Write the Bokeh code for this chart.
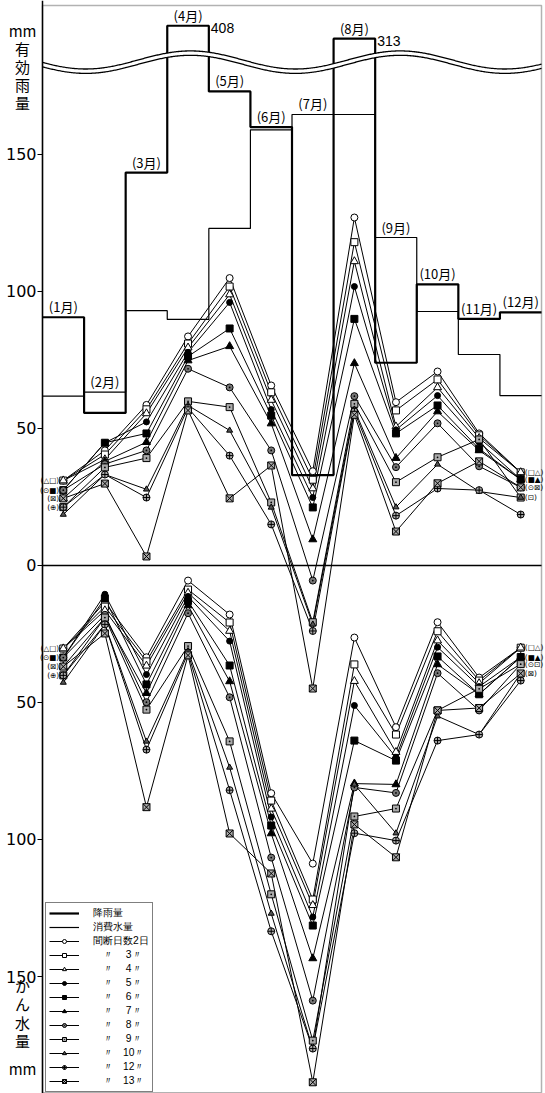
import numpy as np
from bokeh.plotting import figure
from bokeh.models import Range1d, FixedTicker, Legend, LegendItem, BoxAnnotation
from bokeh.core.properties import value
from bokeh.embed import file_html
from bokeh.resources import INLINE

# ---------------- data ----------------
months = [1, 2, 3, 4, 5, 6, 7, 8, 9, 10, 11, 12]
month_labels = ["(1月)", "(2月)", "(3月)", "(4月)", "(5月)", "(6月)",
                "(7月)", "(8月)", "(9月)", "(10月)", "(11月)", "(12月)"]

# 降雨量 (mm) and 消費水量 (mm)
rainfall = [90.6, 55.7, 143.4, 408, 173, 160, 33, 313, 74, 102.6, 90, 92.4]
consumption = [61.8, 63.3, 93, 89.8, 123, 159, 164.6, 164.6, 119.7, 92.7, 77, 62]

interval_days = [2, 3, 4, 5, 6, 7, 8, 9, 10, 12, 13]

# 有効雨量 (effective rainfall, mm) by irrigation interval
eff_2d = [31, 42, 58.6, 83.6, 104.9, 65.7, 34.4, 127, 59.6, 70.8, 48.2, 34]
eff_3d = [31, 40.5, 57, 81, 101.8, 63.2, 31.3, 118, 56.6, 67.9, 47.5, 34]
eff_4d = [31, 38.7, 55.5, 79.5, 98.9, 60.4, 28.1, 111, 50.7, 65, 46.5, 34]
eff_5d = [27.5, 44.8, 52.4, 77.8, 96, 56.9, 24.8, 101.8, 49.5, 62, 45, 31.4]
eff_6d = [27.5, 44.8, 48.2, 76.3, 86.5, 54.7, 21.2, 90, 48.2, 58.4, 42.6, 31.4]
eff_7d = [24.5, 38, 45, 74.8, 80, 51.8, 9.5, 73.8, 39.2, 56.2, 42, 31.4]
eff_8d = [27.5, 37, 42, 71.8, 65, 42, -5.5, 61.8, 35.9, 51.9, 36.2, 28.5]
eff_9d = [21.3, 35.8, 39.2, 59.9, 57.8, 23, -20.7, 59, 30.4, 39.5, 46, 24.8]
eff_10d = [18.6, 33.2, 27.8, 58.4, 49.3, 21.2, -21.5, 57, 21.3, 36.9, 27, 24.8]
eff_12d = [21.3, 33.2, 24.8, 57.5, 40.1, 15, -23.9, 56.2, 18.2, 28.1, 27.5, 18.6]
eff_13d = [24.5, 29.9, 3.3, 56.6, 24.5, 36.5, -44.9, 55, 12.4, 30, 38, 28.5]

# かん水量 (irrigation water, mm) by irrigation interval
irr_2d = [30.3, 13.4, 33.5, 5.5, 17.9, 83.1, 108.8, 26.3, 59, 20.7, 40.9, 30]
irr_3d = [30.3, 15, 35, 8.8, 20.8, 85.8, 121.9, 36.1, 61.7, 24, 42, 30]
irr_4d = [30.3, 16.4, 36.6, 10, 23.9, 88.8, 124, 42.2, 68.1, 27.4, 43, 30]
irr_5d = [33.6, 10.5, 39.8, 11.3, 27.6, 91.8, 128.3, 51.1, 70, 29.8, 44.2, 33.4]
irr_6d = [33.6, 12, 43.4, 13, 36.5, 94.9, 131.4, 63.9, 71.2, 33.2, 47, 33.4]
irr_7d = [36.9, 19, 46.6, 14.6, 42.3, 97.8, 143.4, 79.6, 79.9, 36.1, 47, 33.4]
irr_8d = [33.6, 18, 49.9, 17.4, 48.1, 106.6, 158.8, 81, 83, 39.3, 52.9, 36]
irr_9d = [40.1, 19, 52.6, 29.4, 64.2, 120, 173.4, 91.6, 88.7, 52.9, 45, 36]
irr_10d = [42.7, 21.5, 64.2, 31.2, 73.7, 127, 176.3, 79.9, 97.7, 55, 61.7, 39.4]
irr_12d = [40.1, 21.5, 67.2, 32, 82, 133.5, 176.3, 97.7, 100.4, 63.9, 61.7, 42]
irr_13d = [36.9, 24.8, 88.2, 32.8, 97.8, 112.4, 188.6, 94.5, 106.5, 52.9, 52, 39.4]

eff_series = [eff_2d, eff_3d, eff_4d, eff_5d, eff_6d, eff_7d, eff_8d, eff_9d, eff_10d, eff_12d, eff_13d]
irr_series = [irr_2d, irr_3d, irr_4d, irr_5d, irr_6d, irr_7d, irr_8d, irr_9d, irr_10d, irr_12d, irr_13d]

tick_values = [150, 100, 50, 0, -50, -100, -150]
tick_texts = ["150", "100", "50", "0", "50", "100", "150"]

# ---------------- styles ----------------
markers = ["circle", "square", "triangle", "circle", "square", "triangle",
           "circle_dot", "square_dot", "triangle", "circle_cross", "square_x"]
fills = ["white", "white", "white", "black", "black", "black",
         "#777777", "#aaaaaa", "#555555", "#aaaaaa", "#aaaaaa"]
sizes = [7, 7, 8, 6, 7, 8, 7, 7, 6, 7, 7]

FONT_JP = "Noto Sans CJK JP"
FONT_NUM = "Liberation Sans"
FONT_SYM = "DejaVu Sans"


def disp(v):
    """axis with a break above 180 mm"""
    return v if v <= 180 else 185.7 + (v - 180) * 0.0495


def step_xy(vals):
    xs, ys = [], []
    for m, v in zip(months, vals):
        xs += [m - 0.5, m + 0.5]
        ys += [disp(v), disp(v)]
    return xs, ys


X_LEFT, X_RIGHT = months[0] - 0.5, months[-1] + 0.5     # chart box edges
Y_TOP, Y_BOTTOM = 204.4, -192.4

p = figure(width=545, height=1093, output_backend="svg", toolbar_location=None,
           x_range=Range1d(-0.510, 12.596), y_range=Range1d(-192.7, 206.2),
           x_axis_location=None, min_border_left=0, min_border_right=0,
           min_border_top=0, min_border_bottom=0)
p.xgrid.visible = False
p.ygrid.visible = False
p.outline_line_color = None
p.background_fill_color = "white"
p.border_fill_color = "white"

ax = p.yaxis[0]
ax.fixed_location = X_LEFT
ax.ticker = FixedTicker(ticks=tick_values)
ax.major_label_overrides = {t: s for t, s in zip(tick_values, tick_texts)}
ax.major_label_text_font = "DejaVu Sans"
ax.major_label_text_font_size = "16px"
ax.major_label_text_color = "black"
ax.major_tick_in = 0
ax.major_tick_out = 5
ax.minor_tick_out = 0
ax.minor_tick_in = 0
ax.axis_line_width = 1.5
ax.major_label_standoff = 1

p.add_layout(BoxAnnotation(left=X_LEFT, right=X_RIGHT, top=Y_TOP, bottom=Y_BOTTOM,
                           fill_alpha=0, line_color="black", line_width=1.5))
p.line([X_LEFT, X_RIGHT], [0, 0], line_color="black", line_width=1.3)

# step lines (rain / consumption)
rx, ry = step_xy(rainfall)
cx, cy = step_xy(consumption)
r_cons = p.line(cx, cy, line_color="black", line_width=1.2)
r_rain = p.line(rx, ry, line_color="black", line_width=2.2)

# axis break (decoration)
wx = np.linspace(X_LEFT, X_RIGHT, 500)
wave = 184.5 + 3.3 * np.cos(2 * np.pi * (wx - 4.06) / 5.04)
p.varea(x=wx, y1=wave - 1.6, y2=wave, fill_color="white")
p.line(wx, wave, line_color="black", line_width=1.3)
p.line(wx, wave - 1.6, line_color="black", line_width=1.3)

# month labels at the top of each box
label_y = [disp(max(r, c)) for r, c in zip(rainfall, consumption)]
p.text(x=months, y=label_y, text=month_labels, text_align="center",
       text_baseline="bottom", y_offset=-1, text_font=value(FONT_JP),
       text_font_size="13px", text_color="black")
big = [(m, v) for m, v in zip(months, rainfall) if v > 180]
p.text(x=[m + 0.5 for m, v in big], y=[disp(v) for m, v in big],
       text=[str(int(v)) for m, v in big], text_align="left", x_offset=2,
       text_baseline="top", y_offset=-3, text_font=value(FONT_NUM),
       text_font_size="14px", text_color="black")

items = [LegendItem(label="降雨量", renderers=[r_rain]),
         LegendItem(label="消費水量", renderers=[r_cons])]

line_renderers = []
for k in range(len(interval_days)):
    top = eff_series[k]
    bot = [-v for v in irr_series[k]]
    lt = p.line(months, top, line_color="black", line_width=1)
    lb = p.line(months, bot, line_color="black", line_width=1)
    line_renderers.append((lt, lb))

for k in range(len(interval_days)):
    top = eff_series[k]
    bot = [-v for v in irr_series[k]]
    kw = dict(marker=markers[k], size=sizes[k], fill_color=fills[k],
              line_color="black", line_width=1)
    st = p.scatter(months, top, **kw)
    p.scatter(months, bot, **kw)
    d = interval_days[k]
    lab = "間断日数2日" if k == 0 else f"　〃　{d:>2}〃"
    items.append(LegendItem(label=lab, renderers=[line_renderers[k][0], st]))

# notes for overlapping markers (January left, December right)
jan_top = [("(△□)", eff_2d[0]), ("(⊙■)", eff_5d[0]), ("(⊠)", eff_7d[0]), ("(⊕)", eff_9d[0])]
jan_bot = [("(△□)", -irr_2d[0]), ("(⊙■)", -irr_5d[0]), ("(⊠)", -irr_7d[0]), ("(⊕)", -irr_9d[0])]
p.text(x=[months[0]] * 8, y=[v for t, v in jan_top + jan_bot], text=[t for t, v in jan_top + jan_bot],
       text_align="right", x_offset=-4, text_baseline="middle",
       text_font=value(FONT_SYM), text_font_size="7.5px", text_color="black")
dec_top = [("(□△)", eff_2d[11]), ("(■▲)", eff_5d[11]), ("(⊙⊠)", eff_8d[11]), ("(⊡)", eff_10d[11])]
dec_bot = [("(□△)", -irr_2d[11]), ("(■▲)", -irr_5d[11]), ("(⊙⊡)", -irr_8d[11]), ("(⊠)", -irr_10d[11])]
p.text(x=[months[-1]] * 8, y=[v for t, v in dec_top + dec_bot], text=[t for t, v in dec_top + dec_bot],
       text_align="left", x_offset=4, text_baseline="middle",
       text_font=value(FONT_SYM), text_font_size="7.5px", text_color="black")

# vertical axis titles, one character per line
title_top = ["mm", "有", "効", "雨", "量"]
title_top_y = [195.3, 188.7, 182.1, 175.5, 169.0]
title_bot = ["か", "ん", "水", "量", "mm"]
title_bot_y = [-153.3, -159.9, -166.8, -173.4, -183.6]
p.text(x=[0.02] * 10, y=title_top_y + title_bot_y, text=title_top + title_bot,
       text_align="center", text_baseline="middle", text_font=value(FONT_JP),
       text_font_size="15px", text_color="black")

legend = Legend(items=items, location=(45, 1), orientation="vertical",
                label_text_font="Liberation Sans", label_text_font_size="10.3px",
                label_text_color="black",
                label_height=10, glyph_height=10, glyph_width=30, spacing=0,
                padding=3, margin=0, label_standoff=14,
                border_line_color="black", border_line_width=1.5,
                background_fill_color="white", background_fill_alpha=1)
p.add_layout(legend)

open("out.html", "w").write(file_html(p, INLINE))
